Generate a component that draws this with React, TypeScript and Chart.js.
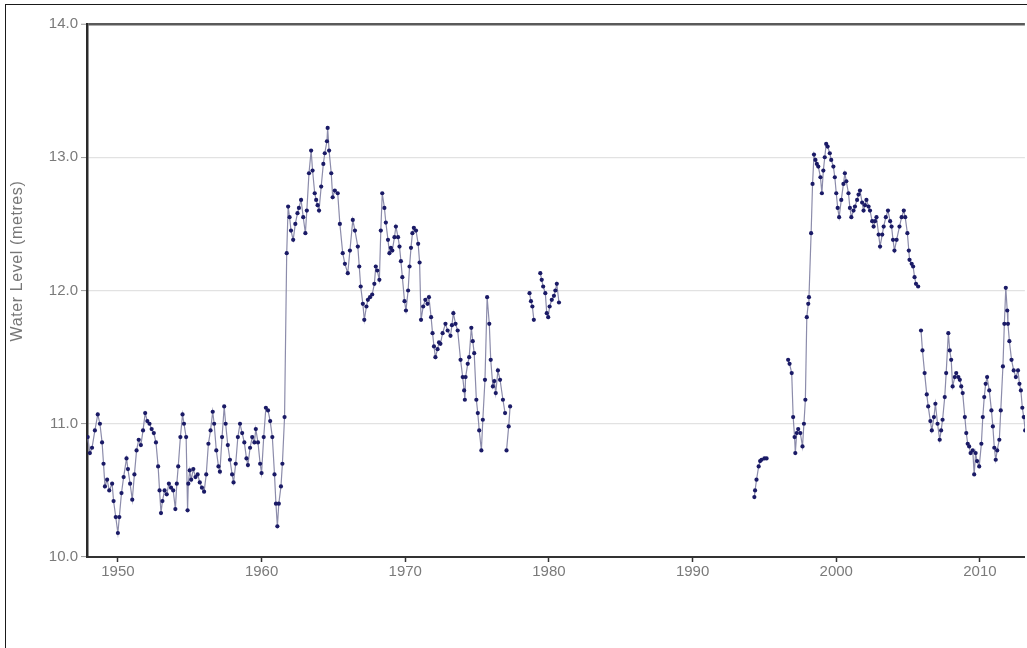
import React, { useEffect, useRef } from "react";
import { Chart, registerables } from "chart.js";

Chart.register(...registerables);

// ---- Data ----
const yTickValues = [10, 11, 12, 13, 14];
const xTickYears = [1950, 1960, 1970, 1980, 1990, 2000, 2010];
const yAxisTitle = "Water Level (metres)";

const segment1948to1977: [number, number][] = [
  [1947.9, 10.9], [1948.05, 10.78], [1948.2, 10.82], [1948.4, 10.95], [1948.6, 11.07], [1948.75, 11.0],
  [1948.9, 10.86], [1949.0, 10.7], [1949.1, 10.53], [1949.25, 10.58], [1949.4, 10.5], [1949.6, 10.55],
  [1949.7, 10.42], [1949.85, 10.3], [1950.0, 10.18], [1950.1, 10.3], [1950.25, 10.48], [1950.4, 10.6],
  [1950.6, 10.74], [1950.7, 10.66], [1950.85, 10.55], [1951.0, 10.43], [1951.15, 10.62], [1951.3, 10.8],
  [1951.45, 10.88], [1951.6, 10.84], [1951.75, 10.95], [1951.9, 11.08], [1952.05, 11.02], [1952.2, 11.0],
  [1952.35, 10.96], [1952.5, 10.93], [1952.65, 10.86], [1952.8, 10.68], [1952.9, 10.5], [1953.0, 10.33],
  [1953.1, 10.42], [1953.25, 10.5], [1953.4, 10.47], [1953.55, 10.55], [1953.7, 10.52], [1953.85, 10.5],
  [1954.0, 10.36], [1954.1, 10.55], [1954.2, 10.68], [1954.35, 10.9], [1954.5, 11.07], [1954.6, 11.0],
  [1954.75, 10.9], [1954.85, 10.35], [1954.9, 10.55], [1955.0, 10.65], [1955.1, 10.58], [1955.25, 10.66],
  [1955.4, 10.6], [1955.55, 10.62], [1955.7, 10.56], [1955.85, 10.52], [1956.0, 10.49], [1956.15, 10.62],
  [1956.3, 10.85], [1956.45, 10.95], [1956.6, 11.09], [1956.7, 11.0], [1956.85, 10.8], [1957.0, 10.68],
  [1957.1, 10.64], [1957.25, 10.9], [1957.4, 11.13], [1957.5, 11.0], [1957.65, 10.84], [1957.8, 10.73],
  [1957.95, 10.62], [1958.05, 10.56], [1958.2, 10.7], [1958.35, 10.9], [1958.5, 11.0], [1958.65, 10.93],
  [1958.8, 10.86], [1958.95, 10.74], [1959.05, 10.69], [1959.2, 10.82], [1959.35, 10.9], [1959.5, 10.86],
  [1959.6, 10.96], [1959.75, 10.86], [1959.9, 10.7], [1960.0, 10.63], [1960.15, 10.9], [1960.3, 11.12],
  [1960.45, 11.1], [1960.6, 11.02], [1960.75, 10.9], [1960.9, 10.62], [1961.0, 10.4], [1961.1, 10.23],
  [1961.2, 10.4], [1961.35, 10.53], [1961.45, 10.7], [1961.6, 11.05], [1961.75, 12.28], [1961.85, 12.63],
  [1961.95, 12.55], [1962.05, 12.45], [1962.2, 12.38], [1962.35, 12.5], [1962.5, 12.58], [1962.6, 12.62],
  [1962.75, 12.68], [1962.9, 12.55], [1963.05, 12.43], [1963.15, 12.6], [1963.3, 12.88], [1963.45, 13.05],
  [1963.55, 12.9], [1963.7, 12.73], [1963.8, 12.68], [1963.9, 12.64], [1964.0, 12.6], [1964.15, 12.78],
  [1964.3, 12.95], [1964.4, 13.03], [1964.55, 13.12], [1964.6, 13.22], [1964.7, 13.05], [1964.85, 12.88],
  [1964.95, 12.7], [1965.1, 12.75], [1965.3, 12.73], [1965.45, 12.5], [1965.65, 12.28], [1965.8, 12.2],
  [1966.0, 12.13], [1966.15, 12.3], [1966.35, 12.53], [1966.5, 12.45], [1966.7, 12.33], [1966.8, 12.18],
  [1966.9, 12.03], [1967.05, 11.9], [1967.15, 11.78], [1967.3, 11.88], [1967.4, 11.93], [1967.55, 11.95],
  [1967.7, 11.97], [1967.85, 12.05], [1967.95, 12.18], [1968.05, 12.15], [1968.2, 12.08], [1968.3, 12.45],
  [1968.4, 12.73], [1968.55, 12.62], [1968.65, 12.51], [1968.8, 12.38], [1968.9, 12.28], [1969.0, 12.32],
  [1969.1, 12.3], [1969.25, 12.4], [1969.35, 12.48], [1969.5, 12.4], [1969.6, 12.33], [1969.7, 12.22],
  [1969.8, 12.1], [1969.95, 11.92], [1970.05, 11.85], [1970.2, 12.0], [1970.3, 12.18], [1970.4, 12.32],
  [1970.5, 12.43], [1970.6, 12.47], [1970.75, 12.45], [1970.9, 12.35], [1971.0, 12.21], [1971.1, 11.78],
  [1971.25, 11.88], [1971.4, 11.93], [1971.55, 11.9], [1971.65, 11.95], [1971.8, 11.8], [1971.9, 11.68],
  [1972.0, 11.58], [1972.1, 11.5], [1972.25, 11.56], [1972.35, 11.61], [1972.45, 11.6], [1972.6, 11.68],
  [1972.8, 11.75], [1972.95, 11.7], [1973.15, 11.66], [1973.25, 11.74], [1973.35, 11.83], [1973.5, 11.75],
  [1973.65, 11.7], [1973.85, 11.48], [1974.0, 11.35], [1974.1, 11.25], [1974.15, 11.18], [1974.2, 11.35],
  [1974.35, 11.45], [1974.45, 11.5], [1974.6, 11.72], [1974.7, 11.62], [1974.8, 11.53], [1974.95, 11.18],
  [1975.05, 11.08], [1975.15, 10.95], [1975.3, 10.8], [1975.4, 11.03], [1975.55, 11.33], [1975.7, 11.95],
  [1975.85, 11.75], [1975.95, 11.48], [1976.1, 11.28], [1976.2, 11.32], [1976.3, 11.23], [1976.45, 11.4],
  [1976.6, 11.33], [1976.8, 11.18], [1976.95, 11.08],
];

const segment1977: [number, number][] = [
  [1977.05, 10.8], [1977.2, 10.98], [1977.3, 11.13],
];

const segment1978: [number, number][] = [
  [1978.65, 11.98], [1978.75, 11.92], [1978.85, 11.88], [1978.95, 11.78],
];

const segment1979to1980: [number, number][] = [
  [1979.4, 12.13], [1979.5, 12.08], [1979.6, 12.03], [1979.75, 11.98], [1979.85, 11.83], [1979.95, 11.8],
  [1980.05, 11.88], [1980.2, 11.93], [1980.35, 11.96], [1980.45, 12.0], [1980.55, 12.05], [1980.7, 11.91],
];

const segment1994to1995: [number, number][] = [
  [1994.3, 10.45], [1994.35, 10.5], [1994.45, 10.58], [1994.6, 10.68], [1994.7, 10.72], [1994.8, 10.73],
  [1995.0, 10.74], [1995.15, 10.74],
];

const segment1996to2005: [number, number][] = [
  [1996.65, 11.48], [1996.75, 11.45], [1996.9, 11.38], [1997.0, 11.05], [1997.1, 10.9], [1997.15, 10.78],
  [1997.25, 10.93], [1997.35, 10.96], [1997.5, 10.93], [1997.65, 10.83], [1997.75, 11.0], [1997.85, 11.18],
  [1997.95, 11.8], [1998.05, 11.9], [1998.1, 11.95], [1998.25, 12.43], [1998.35, 12.8], [1998.45, 13.02],
  [1998.55, 12.98], [1998.65, 12.95], [1998.75, 12.93], [1998.9, 12.85], [1999.0, 12.73], [1999.1, 12.9],
  [1999.2, 13.0], [1999.3, 13.1], [1999.4, 13.08], [1999.55, 13.03], [1999.65, 12.98], [1999.8, 12.93],
  [1999.9, 12.85], [2000.0, 12.73], [2000.1, 12.62], [2000.2, 12.55], [2000.35, 12.68], [2000.5, 12.8],
  [2000.6, 12.88], [2000.7, 12.82], [2000.85, 12.73], [2000.95, 12.62], [2001.05, 12.55], [2001.2, 12.6],
  [2001.3, 12.63], [2001.45, 12.68], [2001.55, 12.72], [2001.65, 12.75], [2001.8, 12.66], [2001.9, 12.6],
  [2002.0, 12.64], [2002.1, 12.68], [2002.25, 12.63], [2002.35, 12.6], [2002.5, 12.52], [2002.6, 12.48],
  [2002.7, 12.52], [2002.8, 12.55], [2002.95, 12.42], [2003.05, 12.33], [2003.2, 12.42], [2003.3, 12.48],
  [2003.45, 12.55], [2003.6, 12.6], [2003.75, 12.52], [2003.85, 12.48], [2003.95, 12.38], [2004.05, 12.3],
  [2004.2, 12.38], [2004.4, 12.48], [2004.55, 12.55], [2004.7, 12.6], [2004.8, 12.55], [2004.95, 12.43],
  [2005.05, 12.3], [2005.1, 12.23], [2005.25, 12.2], [2005.35, 12.18], [2005.45, 12.1], [2005.55, 12.05],
  [2005.7, 12.03],
];

const segment2006to2013: [number, number][] = [
  [2005.9, 11.7], [2006.0, 11.55], [2006.15, 11.38], [2006.3, 11.22], [2006.4, 11.13], [2006.55, 11.02],
  [2006.65, 10.95], [2006.8, 11.05], [2006.9, 11.15], [2007.05, 11.0], [2007.2, 10.88], [2007.3, 10.95],
  [2007.4, 11.03], [2007.55, 11.2], [2007.65, 11.38], [2007.8, 11.68], [2007.9, 11.55], [2008.0, 11.48],
  [2008.1, 11.28], [2008.25, 11.35], [2008.35, 11.38], [2008.5, 11.35], [2008.6, 11.33], [2008.7, 11.28],
  [2008.8, 11.23], [2008.95, 11.05], [2009.05, 10.93], [2009.15, 10.85], [2009.25, 10.83], [2009.35, 10.78],
  [2009.5, 10.8], [2009.6, 10.62], [2009.7, 10.78], [2009.8, 10.72], [2009.95, 10.68], [2010.1, 10.85],
  [2010.2, 11.05], [2010.3, 11.2], [2010.4, 11.3], [2010.5, 11.35], [2010.65, 11.25], [2010.8, 11.1],
  [2010.9, 10.98], [2011.0, 10.82], [2011.1, 10.73], [2011.2, 10.8], [2011.35, 10.88], [2011.45, 11.1],
  [2011.6, 11.43], [2011.7, 11.75], [2011.8, 12.02], [2011.9, 11.85], [2011.95, 11.75], [2012.05, 11.62],
  [2012.2, 11.48], [2012.35, 11.4], [2012.5, 11.35], [2012.65, 11.4], [2012.75, 11.3], [2012.85, 11.25],
  [2012.95, 11.12], [2013.05, 11.05], [2013.15, 10.95],
];

const segments = [
  segment1948to1977,
  segment1977,
  segment1978,
  segment1979to1980,
  segment1994to1995,
  segment1996to2005,
  segment2006to2013,
];

const X_MIN = 1947.85;
const X_MAX = 2013.13;

const FONT = "'Liberation Sans', Arial, sans-serif";

export default function App() {
  const canvasRef = useRef<HTMLCanvasElement | null>(null);

  useEffect(() => {
    const canvas = canvasRef.current;
    if (!canvas) return;

    // Build points, inserting a null after each segment so the line breaks at gaps.
    const points: { x: number; y: number | null }[] = [];
    segments.forEach((seg) => {
      seg.forEach(([x, y]) => points.push({ x, y }));
      const last = seg[seg.length - 1];
      points.push({ x: last[0], y: null });
    });

    const yTitlePlugin = {
      id: "yTitle",
      afterDraw(chart: any) {
        const ctx = chart.ctx as CanvasRenderingContext2D;
        ctx.save();
        ctx.translate(18, 261);
        ctx.rotate(-Math.PI / 2);
        ctx.font = `16px ${FONT}`;
        (ctx as any).letterSpacing = "0.6px";
        ctx.fillStyle = "#777777";
        ctx.textAlign = "center";
        ctx.textBaseline = "middle";
        ctx.fillText(yAxisTitle, 0, 0);
        ctx.restore();
      },
    };

    const chart = new Chart(canvas, {
      type: "line",
      data: {
        datasets: [
          {
            label: "Water Level",
            data: points as any,
            parsing: { xAxisKey: "x", yAxisKey: "y" } as any,
            borderColor: "#8c8cab",
            borderWidth: 1.2,
            pointRadius: 2.1,
            pointHoverRadius: 2.1,
            pointBorderWidth: 0,
            pointBackgroundColor: "#1a1a66",
            pointStyle: "circle",
            spanGaps: false,
            tension: 0,
            fill: false,
          },
        ],
      },
      plugins: [yTitlePlugin],
      options: {
        animation: false,
        responsive: false,
        devicePixelRatio: 1,
        layout: { padding: { top: 24, left: 0, right: 0, bottom: 0 } },
        plugins: {
          legend: { display: false },
          tooltip: { enabled: false },
          title: { display: false },
        },
        scales: {
          x: {
            type: "linear",
            min: X_MIN,
            max: X_MAX,
            afterFit: (scale: any) => {
              scale.height = 91;
            },
            afterBuildTicks: (scale: any) => {
              scale.ticks = xTickYears.map((v) => ({ value: v }));
            },
            ticks: {
              includeBounds: false,
              autoSkip: false,
              maxRotation: 0,
              padding: 1,
              color: "#7a7a7a",
              font: { family: FONT, size: 15 },
              callback: (v: any) => String(v),
            },
            grid: {
              drawOnChartArea: false,
              drawTicks: true,
              tickLength: 5,
              tickColor: "#333",
              tickWidth: 1.5,
            },
            border: { display: true, color: "#333", width: 2 },
          },
          y: {
            type: "linear",
            min: 10,
            max: 14,
            afterFit: (scale: any) => {
              scale.width = 87;
            },
            afterBuildTicks: (scale: any) => {
              scale.ticks = yTickValues.map((v) => ({ value: v }));
            },
            ticks: {
              autoSkip: false,
              padding: 3,
              color: "#7a7a7a",
              font: { family: FONT, size: 15 },
              callback: (v: any) => Number(v).toFixed(1),
            },
            grid: {
              color: (c: any) => (c.tick && c.tick.value === 14 ? "#5a5a5a" : "#e2e2e2"),
              lineWidth: (c: any) => (c.tick && c.tick.value === 14 ? 2.5 : 1.2),
              drawTicks: true,
              tickLength: 6,
              tickColor: "#9a9a9a",
              tickWidth: 1,
            },
            border: { display: true, color: "#2a2a2a", width: 2.5 },
          },
        },
      },
    });

    return () => {
      chart.destroy();
    };
  }, []);

  return (
    <div
      style={{
        position: "absolute",
        left: 0,
        top: 0,
        width: 1027,
        height: 648,
        overflow: "hidden",
        background: "#ffffff",
      }}
    >
      <div
        style={{
          position: "absolute",
          left: 5,
          top: 4,
          width: 1100,
          height: 700,
          borderLeft: "1.5px solid #1a1a1a",
          borderTop: "1.5px solid #1a1a1a",
        }}
      />
      <canvas
        ref={canvasRef}
        width={1027}
        height={648}
        style={{ position: "absolute", left: 0, top: 0, width: 1027, height: 648 }}
      />
    </div>
  );
}
